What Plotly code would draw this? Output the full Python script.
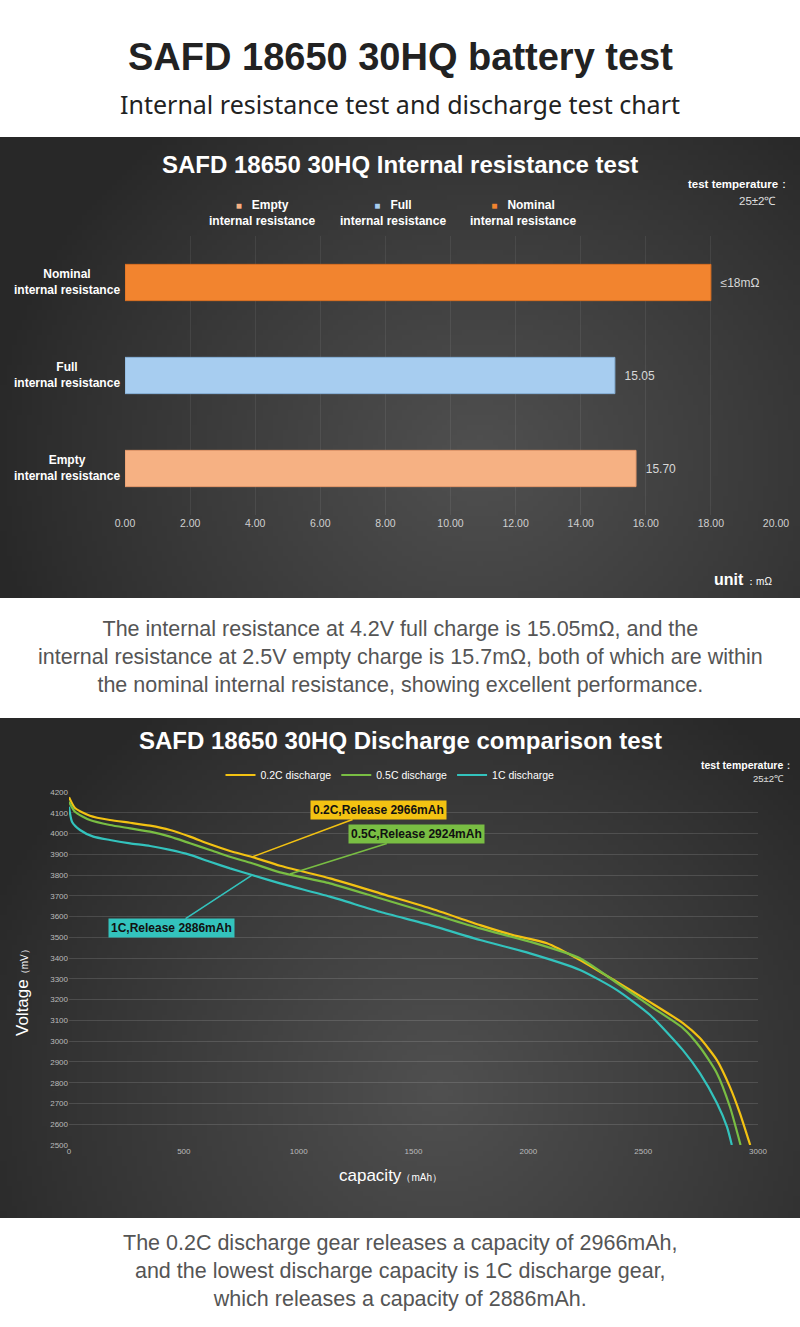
import base64, struct, zlib
import numpy as np
import plotly.graph_objects as go

W, H = 800, 1327

# ---------------- data ----------------
bar_categories = ["Empty internal resistance", "Full internal resistance", "Nominal internal resistance"]
bar_values = [15.70, 15.05, 18.0]
bar_text = ["15.70", "15.05", "≤18mΩ"]
bar_colors = ["#F6B183", "#A7CDF0", "#F2842F"]
bar_line_colors = ["#E3976A", "#86AFD6", "#D96F22"]
bar_x_ticks = [0, 2, 4, 6, 8, 10, 12, 14, 16, 18, 20]
bar_x_ticklabels = ["0.00", "2.00", "4.00", "6.00", "8.00", "10.00", "12.00", "14.00", "16.00", "18.00", "20.00"]

cap_02c = [0, 26, 91, 178, 266, 353, 440, 527, 614, 701, 797, 919, 1136, 1354, 1572, 1790, 1933, 2081,
           2225, 2386, 2530, 2673, 2747, 2821, 2878, 2921, 2966]
volt_02c = [4175, 4123, 4086, 4065, 4052, 4038, 4017, 3985, 3948, 3916, 3887, 3845, 3784, 3712, 3640, 3559, 3511, 3472,
            3391, 3285, 3188, 3087, 3015, 2909, 2779, 2654, 2500]
cap_05c = [0, 26, 91, 178, 266, 353, 440, 527, 614, 701, 797, 919, 1136, 1354, 1572, 1790, 2007, 2225,
           2386, 2530, 2673, 2747, 2821, 2878, 2924]
volt_05c = [4153, 4105, 4065, 4041, 4025, 4009, 3985, 3953, 3921, 3888, 3857, 3813, 3760, 3688, 3616, 3543, 3479, 3399,
            3280, 3170, 3063, 2972, 2846, 2683, 2500]
cap_1c = [0, 13, 48, 106, 178, 266, 353, 440, 527, 614, 701, 797, 919, 1136, 1354, 1572, 1790, 2007, 2225,
          2386, 2530, 2673, 2747, 2821, 2865, 2886]
volt_1c = [4129, 4057, 4017, 3985, 3969, 3953, 3940, 3921, 3897, 3864, 3832, 3800, 3760, 3696, 3623, 3559, 3487, 3423, 3343,
           3246, 3126, 2957, 2846, 2702, 2587, 2500]
series_names = ["0.2C discharge", "0.5C discharge", "1C discharge"]
series_colors = ["#F3C212", "#79BE43", "#33C3BD"]
release_labels = ["0.2C,Release 2966mAh", "0.5C,Release 2924mAh", "1C,Release 2886mAh"]
label_anchor_cap = [797, 962, 797]
label_anchor_volt = [3887, 3805, 3800]
line_x_ticks = [0, 500, 1000, 1500, 2000, 2500, 3000]
line_y_ticks = list(range(2500, 4201, 100))


def px(v):
    return v / W


def py(v):
    return 1 - v / H


def gradient_png(w, h, cx, cy, edge, center):
    xs = np.linspace(0, 1, w)[None, :]
    ys = np.linspace(0, 1, h)[:, None]
    d = np.sqrt(((xs - cx) / 0.62) ** 2 + ((ys - cy) / 0.95) ** 2)
    t = np.clip(1 - d, 0, 1) ** 0.9
    v = edge + (center - edge) * t
    arr = np.repeat(v[:, :, None], 3, axis=2).astype(np.uint8)
    raw = b"".join(b"\x00" + arr[r].tobytes() for r in range(h))

    def chunk(tag, data):
        return struct.pack(">I", len(data)) + tag + data + struct.pack(">I", zlib.crc32(tag + data) & 0xffffffff)

    png = (b"\x89PNG\r\n\x1a\n" + chunk(b"IHDR", struct.pack(">IIBBBBB", w, h, 8, 2, 0, 0, 0))
           + chunk(b"IDAT", zlib.compress(raw)) + chunk(b"IEND", b""))
    return "data:image/png;base64," + base64.b64encode(png).decode()


fig = go.Figure()

# ---------------- bar chart ----------------
fig.add_trace(go.Bar(
    x=bar_values, y=bar_categories, orientation="h",
    marker=dict(color=bar_colors, line=dict(color=bar_line_colors, width=1)),
    width=0.39,
    text=["  " + t for t in bar_text], textposition="outside", cliponaxis=False,
    textfont=dict(color="#D8D8D8", size=12, family="Liberation Sans"),
    xaxis="x", yaxis="y", showlegend=False, hoverinfo="skip",
))

# ---------------- discharge curves ----------------
for name, cx_, cy_, col in zip(series_names, [cap_02c, cap_05c, cap_1c], [volt_02c, volt_05c, volt_1c], series_colors):
    fig.add_trace(go.Scatter(
        x=cx_, y=cy_, mode="lines", name=name,
        line=dict(color=col, width=2.2, shape="spline", smoothing=0.6),
        xaxis="x2", yaxis="y2", hoverinfo="skip",
    ))

layout_images = [
    dict(source=gradient_png(160, 92, 0.6, 0.7, 40, 80), xref="paper", yref="paper",
         x=0, y=py(137), sizex=1, sizey=461 / H, sizing="stretch", layer="below",
         xanchor="left", yanchor="top"),
    dict(source=gradient_png(160, 100, 0.55, 0.75, 40, 80), xref="paper", yref="paper",
         x=0, y=py(718), sizex=1, sizey=500 / H, sizing="stretch", layer="below",
         xanchor="left", yanchor="top"),
]

ann = []
W_TXT = "#FFFFFF"
# page headings
ann.append(dict(x=0.5, y=py(57), text="<b>SAFD 18650 30HQ battery test</b>",
                font=dict(size=38, color="#222222", family="Liberation Sans")))
ann.append(dict(x=0.5, y=py(104), text="Internal resistance test and discharge test chart",
                font=dict(size=25, color="#222222", family="Noto Sans")))
# bar panel
ann.append(dict(x=0.5, y=py(165), text="<b>SAFD 18650 30HQ Internal resistance test</b>",
                font=dict(size=24, color=W_TXT, family="Liberation Sans")))
ann.append(dict(x=px(792), y=py(184), xanchor="right", text="<b>test temperature</b>：",
                font=dict(size=11.5, color=W_TXT, family="Liberation Sans")))
ann.append(dict(x=px(757), y=py(201), text="25±2℃",
                font=dict(size=11.5, color="#E0E0E0", family="Liberation Sans")))
legend_bar = [("Empty", bar_colors[0], 262), ("Full", bar_colors[1], 393), ("Nominal", bar_colors[2], 523)]
for lbl, col, cxp in legend_bar:
    ann.append(dict(x=px(cxp), y=py(213), align="center",
                    text=f"<b><span style='color:{col};font-size:10px'>■</span>   {lbl}<br>internal resistance</b>",
                    font=dict(size=12, color=W_TXT, family="Liberation Sans")))
for cat in bar_categories:
    first, rest = cat.split(" ", 1)
    ann.append(dict(x=px(67), y=cat, yref="y", align="center",
                    text=f"<b>{first}<br>{rest}</b>",
                    font=dict(size=12, color=W_TXT, family="Liberation Sans")))
ann.append(dict(x=px(774), y=py(580), xanchor="right",
                text="<b>unit</b><span style='font-size:10px'> ：mΩ</span>",
                font=dict(size=16, color=W_TXT, family="Liberation Sans")))
# middle description
ann.append(dict(x=0.5, y=py(657), align="center",
                text="The internal resistance at 4.2V full charge is 15.05mΩ, and the<br>"
                     "internal resistance at 2.5V empty charge is 15.7mΩ, both of which are within<br>"
                     "the nominal internal resistance, showing excellent performance.",
                font=dict(size=21.5, color="#555555", family="Liberation Sans")))
# discharge panel
ann.append(dict(x=0.5, y=py(741), text="<b>SAFD 18650 30HQ Discharge comparison test</b>",
                font=dict(size=24, color=W_TXT, family="Liberation Sans")))
ann.append(dict(x=px(796), y=py(765), xanchor="right", text="<b>test temperature</b>：",
                font=dict(size=10.5, color=W_TXT, family="Liberation Sans")))
ann.append(dict(x=px(768), y=py(778), text="25±2℃",
                font=dict(size=9.5, color="#E0E0E0", family="Liberation Sans")))
ann.append(dict(x=px(22), y=py(990), textangle=-90,
                text="Voltage<span style='font-size:10px'>（mV）</span>",
                font=dict(size=17, color=W_TXT, family="Liberation Sans")))
ann.append(dict(x=px(390), y=py(1175),
                text="capacity<span style='font-size:10px'>（mAh）</span>",
                font=dict(size=17, color=W_TXT, family="Liberation Sans")))
offsets = [(126, -47), (127, -40), (-81, 53)]
for lbl, col, xc, yc, (ax_, ay_) in zip(release_labels, series_colors, label_anchor_cap, label_anchor_volt, offsets):
    ann.append(dict(x=xc, y=yc, xref="x2", yref="y2", text=f"<b>{lbl}</b>",
                    showarrow=True, arrowhead=0, arrowwidth=1.6, arrowcolor=col, ax=ax_, ay=ay_,
                    bgcolor=col, borderpad=2, font=dict(size=12, color="#111111", family="Liberation Sans")))
# bottom description
ann.append(dict(x=0.5, y=py(1271), align="center",
                text="The 0.2C discharge gear releases a capacity of 2966mAh,<br>"
                     "and the lowest discharge capacity is 1C discharge gear,<br>"
                     "which releases a capacity of 2886mAh.",
                font=dict(size=21.5, color="#555555", family="Liberation Sans")))

for a in ann:
    a.setdefault("xref", "paper")
    a.setdefault("yref", "paper")
    a.setdefault("showarrow", False)
    a.setdefault("xanchor", "center")
    a.setdefault("yanchor", "middle")

fig.update_layout(
    width=W, height=H, margin=dict(l=0, r=0, t=0, b=0, pad=0, autoexpand=False),
    paper_bgcolor="#FFFFFF", plot_bgcolor="rgba(0,0,0,0)",
    images=layout_images, annotations=ann,
    font=dict(family="Liberation Sans"),
    xaxis=dict(domain=[px(125), px(776)], range=[0, 20], tickvals=bar_x_ticks, ticktext=bar_x_ticklabels,
               showgrid=True, gridcolor="rgba(255,255,255,0.07)", gridwidth=1, zeroline=False, automargin=False,
               tickfont=dict(size=10.5, color="#D0D0D0"), ticks="", showline=False, fixedrange=True),
    yaxis=dict(domain=[py(515), py(236)], categoryorder="array", categoryarray=bar_categories, automargin=False,
               range=[-0.5, 2.5], showticklabels=False, showgrid=False, zeroline=False, ticks=""),
    xaxis2=dict(domain=[px(69), px(758)], range=[0, 3000], tickvals=line_x_ticks, anchor="y2", automargin=False,
                showgrid=False, zeroline=False, ticks="", tickfont=dict(size=8, color="#BBBBBB"), showline=False),
    yaxis2=dict(domain=[py(1145), py(792)], range=[2500, 4200], tickvals=line_y_ticks, anchor="x2", automargin=False,
                showgrid=True, gridcolor="rgba(255,255,255,0.13)", gridwidth=1, zeroline=False, ticks="",
                tickfont=dict(size=8, color="#BBBBBB"), showline=False),
    legend=dict(orientation="h", x=px(390), xanchor="center", y=py(775), yanchor="middle",
                font=dict(size=10.5, color=W_TXT), bgcolor="rgba(0,0,0,0)", itemwidth=30,
                traceorder="normal"),
    bargap=0.6,
)

fig.write_html("out.html")
